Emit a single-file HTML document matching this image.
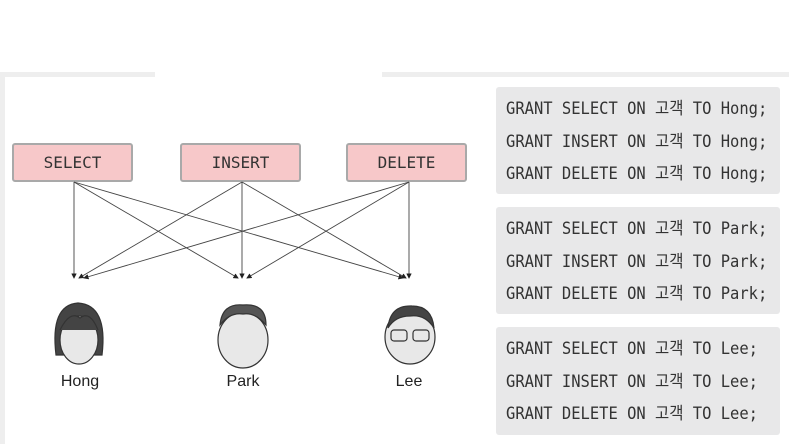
<!DOCTYPE html>
<html><head><meta charset="utf-8"><style>
body{margin:0;width:789px;height:444px;background:#fff;position:relative;overflow:hidden;font-family:"Liberation Sans",sans-serif}
.box{position:absolute;background:#f7c8c9;border:2px solid #a9a9a9;border-radius:3px;box-sizing:border-box;font-family:"DejaVu Sans Mono","Noto Sans CJK KR",monospace;font-size:16px;color:#333;text-align:center;line-height:35px;height:39px;width:121px;top:143px}
.code{position:absolute;left:496px;width:284px;background:#e8e8e9;border-radius:3px;font-family:"DejaVu Sans Mono","Noto Sans CJK KR",monospace;font-size:17px;color:#333;box-sizing:border-box;padding:6px 0 0 10px;line-height:32.5px;white-space:pre}
.code span{display:inline-block;transform:scaleX(0.91);transform-origin:left}
.lab{position:absolute;font-size:16px;color:#222;top:373px;width:80px;text-align:center}
</style></head><body>
<div style="position:absolute;left:0;top:72px;width:155px;height:5px;background:#eee"></div>
<div style="position:absolute;left:382px;top:72px;width:407px;height:5px;background:#eee"></div>
<div style="position:absolute;left:0;top:72px;width:5px;height:372px;background:#eee"></div>
<div class="box" style="left:12px">SELECT</div>
<div class="box" style="left:180px">INSERT</div>
<div class="box" style="left:346px">DELETE</div>
<svg style="position:absolute;left:0;top:0" width="789" height="444">
<defs><marker id="a" markerWidth="6" markerHeight="6" refX="5" refY="3" orient="auto"><path d="M0,0L6,3L0,6z" fill="#222"/></marker></defs>
<g stroke="#444" stroke-width="0.9" fill="none" marker-end="url(#a)">
<line x1="74" y1="182" x2="74" y2="278"/><line x1="74" y1="182" x2="238" y2="278"/><line x1="74" y1="182" x2="403" y2="278"/>
<line x1="242" y1="182" x2="79" y2="278"/><line x1="242" y1="182" x2="242" y2="278"/><line x1="242" y1="182" x2="406" y2="278"/>
<line x1="409" y1="182" x2="84" y2="278"/><line x1="409" y1="182" x2="247" y2="278"/><line x1="409" y1="182" x2="409" y2="278"/>
</g>
<g stroke="#333" stroke-width="1.2">
<path d="M56,355 Q50,305 78,303 Q108,305 102,355 Z" fill="#444"/>
<ellipse cx="79" cy="340" rx="19" ry="24" fill="#e8e8e8"/>
<path d="M60,330 Q70,310 80,318 Q90,310 98,330" fill="#444"/>
<ellipse cx="243" cy="340" rx="25" ry="28" fill="#e8e8e8"/>
<path d="M220,325 Q222,303 243,305 Q266,303 266,325 Q255,312 243,314 Q230,312 220,325Z" fill="#555"/>
<ellipse cx="410" cy="337" rx="25" ry="27" fill="#e8e8e8"/>
<path d="M388,328 Q390,305 412,306 Q432,306 434,328 Q425,314 410,316 Q395,316 388,328Z" fill="#444"/>
<rect x="391" y="330" width="16" height="11" rx="3" fill="none"/><rect x="413" y="330" width="16" height="11" rx="3" fill="none"/>
</g>
</svg>
<div class="lab" style="left:40px">Hong</div>
<div class="lab" style="left:203px">Park</div>
<div class="lab" style="left:369px">Lee</div>
<div class="code" style="top:87px;height:107px"><span>GRANT SELECT ON 고객 TO Hong;</span>
<span>GRANT INSERT ON 고객 TO Hong;</span>
<span>GRANT DELETE ON 고객 TO Hong;</span></div>
<div class="code" style="top:207px;height:107px"><span>GRANT SELECT ON 고객 TO Park;</span>
<span>GRANT INSERT ON 고객 TO Park;</span>
<span>GRANT DELETE ON 고객 TO Park;</span></div>
<div class="code" style="top:327px;height:108px"><span>GRANT SELECT ON 고객 TO Lee;</span>
<span>GRANT INSERT ON 고객 TO Lee;</span>
<span>GRANT DELETE ON 고객 TO Lee;</span></div>
</body></html>
